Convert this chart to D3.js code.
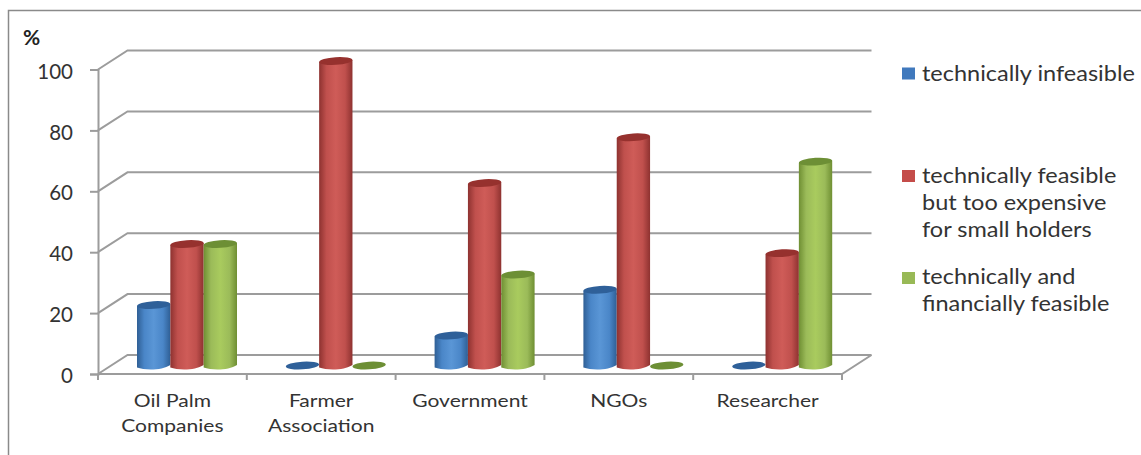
<!DOCTYPE html>
<html>
<head>
<meta charset="utf-8">
<script src="https://cdn.jsdelivr.net/npm/d3@7/dist/d3.min.js"></script>
<style>
  html, body { margin: 0; padding: 0; background: #fff; }
  svg { display: block; }
  text { font-family: Lato, "Open Sans", sans-serif; fill: #333; }
</style>
</head>
<body>
<svg id="chart" width="1141" height="455"></svg>
<script>
const categories = [["Oil Palm", "Companies"], ["Farmer", "Association"], ["Government"], ["NGOs"], ["Researcher"]];
const seriesNames = ["infeasible", "expensive", "feasible"];
const infeasible = [20, 0, 10, 25, 0];
const expensive = [40, 100, 60, 75, 37];
const feasible = [40, 0, 30, 0, 67];
const seriesValues = [infeasible, expensive, feasible];
const yTicks = [0, 20, 40, 60, 80, 100];
const legendLabels = [
  ["technically infeasible"],
  ["technically feasible", "but too expensive", "for small holders"],
  ["technically and", "financially feasible"]
];
const palette = [
  { dark: "#2f5f95", mid: "#4a86c8", light: "#5a96d6", cap: "#2f6099", key: "#4079bd" },
  { dark: "#8e3230", mid: "#c0504d", light: "#cf5c58", cap: "#96312e", key: "#c44c49" },
  { dark: "#6f8f33", mid: "#9bbb59", light: "#a9cb5e", cap: "#6d8f35", key: "#98b956" }
];

const svg = d3.select("#chart");

// Plot box: front plane, with the back wall offset up and to the right.
const front = { left: 98, right: 842, bottom: 374, top: 69.5 };
const depth = { dx: 29.5, dy: -19 };

const yFront = d3.scaleLinear().domain([0, 100]).range([front.bottom, front.top]);
const yBar = d3.scaleLinear().domain([0, 100]).range([366, 61]);
const xBand = d3.scaleBand().domain(d3.range(categories.length)).range([front.left, front.right]);
const xSeries = d3.scaleBand().domain(seriesNames).range([39, 139]);

// Horizontally widened text line; the face is narrower than the wide labels drawn here.
function wideText(parent, str, x, y, size, stretch, anchor) {
  return parent.append("text")
    .attr("transform", `translate(${x},${y}) scale(${stretch},1)`)
    .attr("text-anchor", anchor)
    .style("font-size", size + "px")
    .text(str);
}

// Chart frame: only the top and left edges are visible.
svg.append("path")
  .attr("d", "M8.5,455V10.5H1141")
  .attr("fill", "none").attr("stroke", "#8a8a8a").attr("stroke-width", 1.5);

const gridColor = "#9c9c9c";
const grid = svg.append("g").attr("fill", "none").attr("stroke", gridColor).attr("stroke-width", 2);

// Back-wall gridlines with their diagonal run down to the front plane.
grid.selectAll("path.grid").data(yTicks).join("path")
  .attr("class", "grid")
  .attr("d", d => {
    const y = yFront(d);
    const line = d3.path();
    line.moveTo(front.left, y);
    line.lineTo(front.left + depth.dx, y + depth.dy);
    line.lineTo(front.right + depth.dx, y + depth.dy);
    return line.toString();
  });

// Floor front edge and right-hand edge.
const floor = d3.path();
floor.moveTo(front.left, yFront(0));
floor.lineTo(front.right, yFront(0));
floor.lineTo(front.right + depth.dx, yFront(0) + depth.dy);
grid.append("path").attr("d", floor.toString());

// Value axis and its tick labels.
const yAxis = d3.axisLeft(yFront).tickValues(yTicks).tickSize(8).tickPadding(17);
const yAxisG = svg.append("g").attr("transform", `translate(${front.left},0)`).call(yAxis);
yAxisG.select(".domain").attr("stroke", gridColor).attr("stroke-width", 2);
yAxisG.selectAll(".tick line").attr("stroke", gridColor).attr("stroke-width", 2);
yAxisG.selectAll(".tick text")
  .attr("fill", "#333").attr("dy", "0.42em")
  .style("font-size", "20.5px").style("font-family", "Lato, 'Open Sans', sans-serif");

// Category boundary ticks below the floor.
const catTicks = d3.range(categories.length + 1);
svg.append("g").selectAll("line").data(catTicks).join("line")
  .attr("x1", i => front.left + i * xBand.step())
  .attr("x2", i => front.left + i * xBand.step())
  .attr("y1", front.bottom).attr("y2", front.bottom + 6)
  .attr("stroke", gridColor).attr("stroke-width", 2);

// Category labels, one line per array entry.
const catLabels = svg.append("g");
categories.forEach((lines, i) => {
  lines.forEach((t, j) => {
    wideText(catLabels, t, xBand(i) + xBand.bandwidth() / 2, 407 + j * 25, 18, 1.17, "middle");
  });
});

svg.append("text").attr("x", 23).attr("y", 45)
  .style("font-size", "21px").style("font-weight", 700).style("fill", "#222").text("%");

// Horizontal shading that gives each bar its cylindrical look.
const defs = svg.append("defs");
palette.forEach((c, i) => {
  const g = defs.append("linearGradient").attr("id", `cyl${i}`);
  [[0, c.dark], [0.22, c.mid], [0.5, c.light], [0.78, c.mid], [1, c.dark]].forEach(([o, col]) => {
    g.append("stop").attr("offset", o).attr("stop-color", col);
  });
});

// Cylinders, one per non-zero value; a zero value leaves just the flat cap.
seriesValues.forEach((values, s) => {
  const g = svg.append("g");
  const w = xSeries.bandwidth();
  const c = palette[s];
  values.forEach((v, i) => {
    const x0 = xBand(i) + xSeries(seriesNames[s]);
    const cx = x0 + w / 2;
    const yBase = yBar(0);
    const yTop = yBar(v);
    if (v > 0) {
      const body = d3.path();
      body.moveTo(x0, yTop + 1);
      body.lineTo(x0, yBase + 1.5);
      body.bezierCurveTo(x0 + w * 0.25, yBase + 4.5, x0 + w * 0.75, yBase + 4.5, x0 + w, yBase - 1);
      body.lineTo(x0 + w, yTop - 1);
      body.closePath();
      g.append("path").attr("d", body.toString()).attr("fill", `url(#cyl${s})`);
    }
    const yCap = v > 0 ? yTop : yTop - 0.5;
    g.append("ellipse")
      .attr("cx", cx).attr("cy", yCap)
      .attr("rx", w / 2).attr("ry", 3.8)
      .attr("transform", `rotate(-3.5 ${cx} ${yCap})`)
      .attr("fill", c.cap);
  });
});

// Legend.
const legendRows = [73.5, 176, 278];
const legend = svg.append("g");
legendLabels.forEach((lines, i) => {
  legend.append("rect")
    .attr("x", 902).attr("y", legendRows[i] - 6)
    .attr("width", 13).attr("height", 12)
    .attr("fill", palette[i].key);
  lines.forEach((line, j) => {
    wideText(legend, line, 922, [80.5, 183, 284][i] + j * 27, 21, 1.12, "start");
  });
});
</script>
</body>
</html>
